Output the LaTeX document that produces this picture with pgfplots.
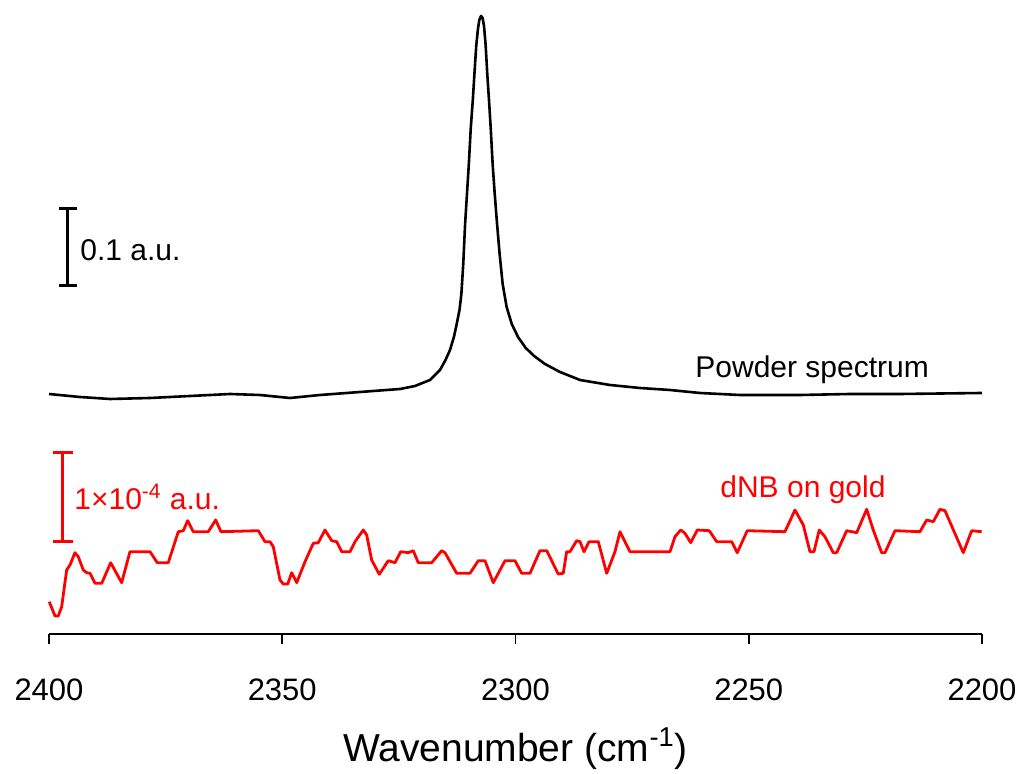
\documentclass[border=0pt]{standalone}
\usepackage{fontspec}
\setmainfont{Liberation Sans}
\usepackage{pgfplots}
\pgfplotsset{compat=1.18}
\usetikzlibrary{arrows.meta}

% y values are heights above the wavenumber axis, in drawing units
\pgfplotstableread{
x y
2400.00 240
2393.35 237
2386.92 235
2378.35 236
2369.78 238
2361.20 240
2354.77 239
2348.34 236
2341.91 239
2333.33 242
2324.76 245
2321.54 248
2318.33 254
2316.18 264
2315.00 274
2314.04 284
2313.20 297
2312.60 310
2312.00 324
2311.60 340
2311.20 370
2310.80 410
2310.40 440
2310.00 470
2309.60 505
2309.15 534
2308.75 564
2308.40 589
2308.05 605
2307.75 614
2307.40 618
2307.05 616
2306.75 608
2306.40 589
2306.05 560
2305.68 534
2305.30 505
2304.90 470
2304.45 440
2303.95 410
2303.40 380
2302.75 350
2301.90 327
2300.80 310
2299.46 297
2297.80 286
2296.00 278
2293.68 270
2290.46 262
2286.17 254
2279.74 249
2273.31 246
2266.88 244
2260.45 241
2251.88 239
2239.01 239
2228.30 240
2217.58 240
2200.00 241
}\powder

\pgfplotstableread{
x y
2399.94 32.3
2398.71 18
2398.01 18
2397.28 27.3
2396.21 64
2395.50 69
2394.43 81.3
2393.72 77.3
2392.65 64
2391.92 61.3
2391.21 60.7
2390.14 50.7
2388.70 50.7
2386.77 71.3
2384.42 51.3
2382.64 82.3
2378.35 82.3
2376.78 71.3
2374.43 71.3
2372.28 102.3
2371.21 103.3
2370.27 113.3
2369.07 102.3
2365.85 102.3
2364.27 114
2363.13 102.3
2355.13 103.3
2353.70 92.3
2352.63 92.3
2351.92 87.3
2350.48 54
2349.77 50
2348.83 50
2347.97 61.3
2346.90 51.3
2345.12 72.3
2343.34 90.7
2342.27 91.3
2340.84 104
2339.40 93.3
2338.33 92.3
2337.26 82.3
2335.48 82.3
2334.41 92.3
2332.63 104
2331.90 99
2330.83 74
2329.20 59.7
2327.27 73.3
2325.83 71.3
2324.61 82.3
2322.98 81.3
2321.91 83.3
2320.84 71.3
2317.96 71.3
2315.82 83.3
2315.11 81.3
2312.61 60.7
2309.75 60.7
2307.97 73.3
2306.54 73.3
2304.76 51.3
2302.25 73.3
2300.11 73.3
2298.67 60.7
2296.89 60.7
2294.75 83.3
2293.31 83.3
2290.83 60
2289.76 60.7
2289.03 82.3
2288.32 82.3
2286.88 93.3
2286.17 92.3
2285.32 82.3
2284.24 92.3
2282.25 92.3
2280.45 60.7
2278.67 82.3
2277.60 102.3
2275.46 82.3
2266.88 82.3
2265.81 97.3
2264.59 104
2263.67 100.7
2262.44 91.3
2261.03 104
2258.46 103.3
2256.87 92.3
2253.66 92.3
2252.46 81.3
2250.32 103.3
2242.24 102.3
2240.09 124
2238.31 109
2236.88 82.3
2236.02 82.3
2234.88 104
2233.66 97.3
2231.88 81.3
2231.15 81.3
2229.01 103.3
2226.86 101.3
2224.72 124.7
2223.31 104
2221.51 81.3
2220.80 81.3
2218.65 103.3
2213.29 102.3
2211.86 114
2210.44 112.3
2209.00 124.7
2207.93 123.3
2204.01 81.3
2202.21 103.3
2200.07 102.3
}\dnb

\begin{document}
\begin{tikzpicture}
\useasboundingbox (-24.5pt,-70pt) rectangle (486pt,317pt);
\begin{axis}[
    scale only axis,
    width=466.5pt, height=317pt,
    xmin=2200, xmax=2400,
    ymin=0, ymax=634,
    x dir=reverse,
    axis x line*=bottom,
    hide y axis,
    axis line style={line width=1.2pt},
    xtick={2200,2250,2300,2350,2400},
    tick align=outside,
    major tick length=5pt,
    tick style={line width=0.8pt, black},
    xticklabel style={font=\fontsize{15.5}{18}\selectfont, yshift=-14pt},
    /pgf/number format/assume math mode=true,
    /pgf/number format/set thousands separator={},
    xlabel={Wavenumber (cm\textsuperscript{-1})},
    xlabel style={font=\fontsize{19.5}{23}\selectfont, yshift=-6.5pt},
    clip=false,
]
\addplot[black, line width=1.3pt, line join=round] table {\powder};
\addplot[red, line width=1.4pt, line join=round] table {\dnb};

\draw[black, line width=1.5pt, {Bar[width=9pt]}-{Bar[width=9pt]}]
    (axis cs:2395.93,427) -- (axis cs:2395.93,347);
\node[anchor=west, font=\fontsize{15}{18}\selectfont, inner sep=0pt]
    at (axis cs:2393.35,384) {0.1 a.u.};
\draw[red, line width=1.5pt, {Bar[width=10pt]}-{Bar[width=10pt]}]
    (axis cs:2397.0,183) -- (axis cs:2397.0,91);
\node[anchor=west, red, font=\fontsize{15}{18}\selectfont, inner sep=0pt]
    at (axis cs:2394.64,137) {1×10\textsuperscript{-4} a.u.};
\node[anchor=west, font=\fontsize{15}{18}\selectfont, inner sep=0pt]
    at (axis cs:2261.52,264) {Powder spectrum};
\node[anchor=west, red, font=\fontsize{15}{18}\selectfont, inner sep=0pt]
    at (axis cs:2256.16,144) {dNB on gold};
\end{axis}
\end{tikzpicture}
\end{document}
